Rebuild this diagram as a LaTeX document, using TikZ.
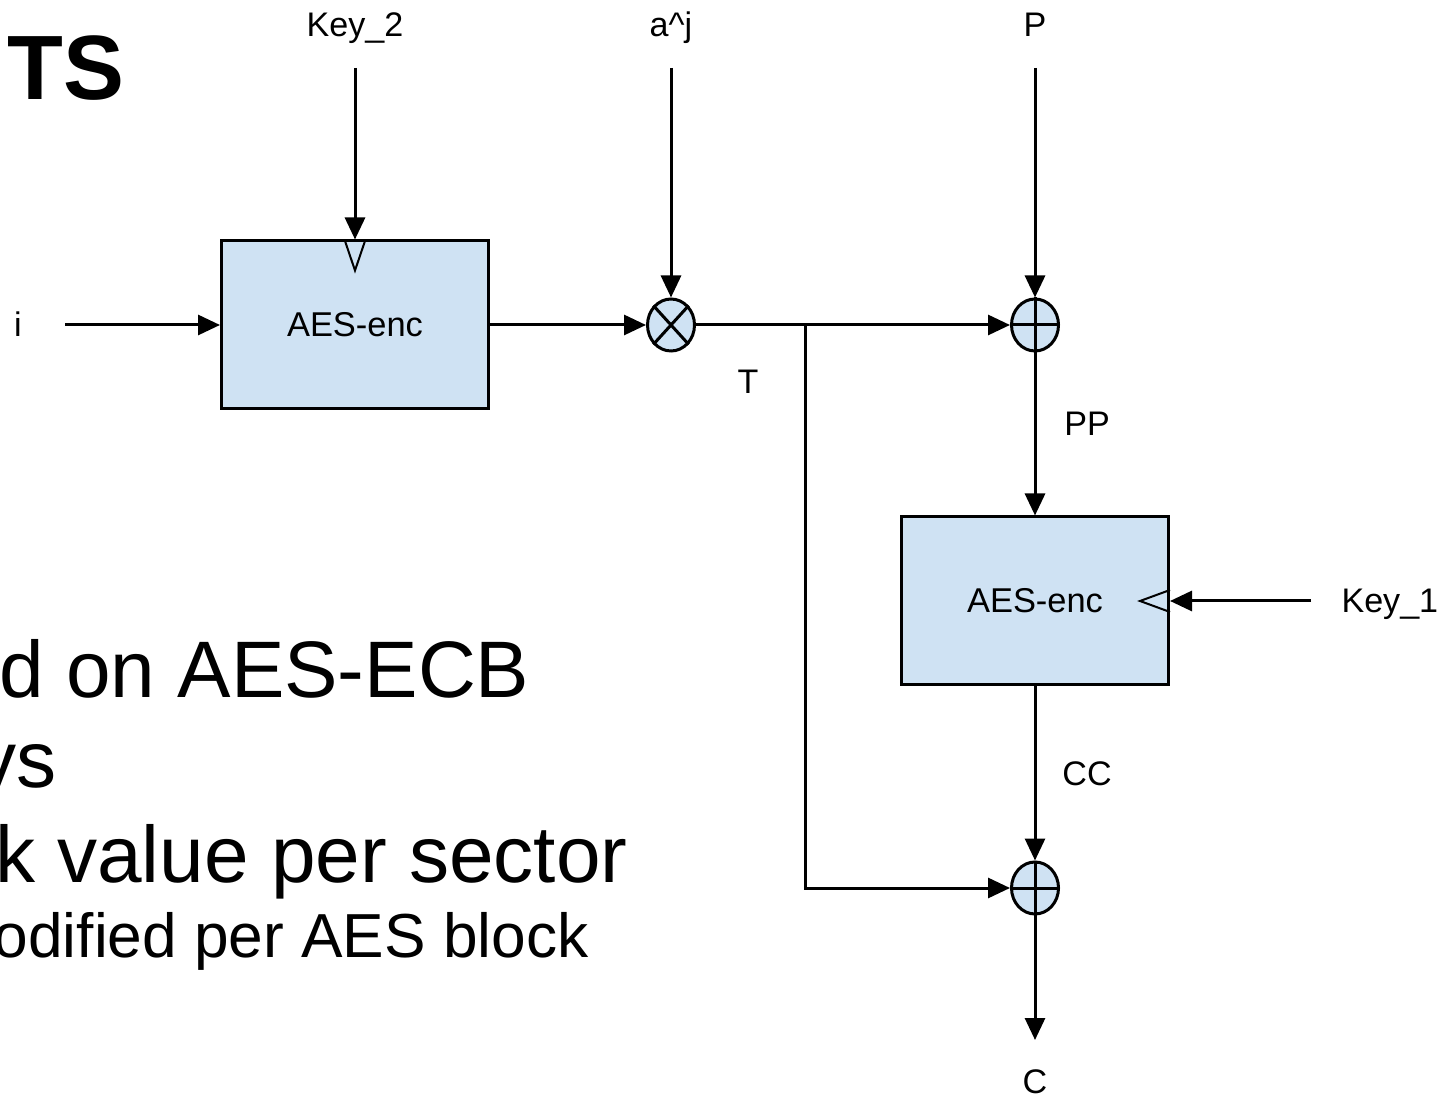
\documentclass[tikz,border=0pt]{standalone}
\usepackage{fontspec}
\setmainfont{Liberation Sans}
\usetikzlibrary{arrows.meta,shapes.geometric}
\definecolor{boxblue}{RGB}{207,226,243}

\begin{document}
\begin{tikzpicture}[
  x=0.1mm, y=-0.1mm,
  line width=0.3mm,
  aesbox/.style={draw, fill=boxblue, minimum width=26.7mm, minimum height=16.8mm, inner sep=0pt, font=\fontsize{9.8}{11}\selectfont},
  mixer/.style={draw, fill=boxblue, ellipse, minimum width=4.7mm, minimum height=5.2mm, inner sep=0pt},
  lbl/.style={font=\fontsize{9.7}{11}\selectfont, inner sep=0pt, anchor=base},
  slide/.style={inner sep=0pt, anchor=base east},
  flow/.style={-{Triangle[length=2.2mm,width=2mm]}},
  keytri/.style={line width=0.2mm}
]
\useasboundingbox (0,0) rectangle (1451,1097);

% slide text, cut at the left edge
\node[slide, font=\fontsize{26}{30}\selectfont\bfseries] (title) at (126,100) {TS};
\node[slide, font=\fontsize{22.8}{26}\selectfont] (based) at (531,698) {d on AES-ECB};
\node[slide, font=\fontsize{22.8}{26}\selectfont] (keys) at (58,788) {ys};
\node[slide, font=\fontsize{22.8}{26}\selectfont] (tweak) at (629,882) {k value per sector};
\node[slide, font=\fontsize{17.7}{20}\selectfont] (modif) at (590,957) {odified per AES block};

% blocks
\node[aesbox] (enc1) at (355,325) {AES-enc};
\node[aesbox] (enc2) at (1035,601) {AES-enc};
\node[mixer] (mul) at (671,325) {};
\node[mixer] (xor1) at (1035,325) {};
\node[mixer] (xor2) at (1035,888) {};
\draw (mul.north west) -- (mul.south east) (mul.north east) -- (mul.south west);
\foreach \n in {xor1,xor2}
  \draw (\n.north) -- (\n.south) (\n.west) -- (\n.east);

% key inputs
\draw[keytri] ([xshift=-1.05mm]enc1.north) -- ([yshift=-3.1mm]enc1.north) -- ([xshift=1.05mm]enc1.north);
\draw[keytri] ([yshift=1.1mm]enc2.east) -- ([xshift=-3mm]enc2.east) -- ([yshift=-1.1mm]enc2.east);

% labels
\node[lbl] (key2) at (355,37) {Key\_2};
\node[lbl] (aj) at (671,37) {a\textasciicircum j};
\node[lbl] (p) at (1035,37) {P};
\node[lbl] (i) at (18,337) {i};
\node[lbl] (t) at (748,394) {T};
\node[lbl] (pp) at (1087,436) {PP};
\node[lbl] (cc) at (1087,786) {CC};
\node[lbl] (c) at (1035,1093) {C};
\node[lbl, anchor=base west] (key1) at (1340,613) {Key\_1};

\coordinate (key2in) at (355,68);
\coordinate (ajin) at (671,68);
\coordinate (pin) at (1035,68);
\coordinate (iin) at (65,325);
\coordinate (key1in) at (1311,601);
\coordinate (cout) at (1035,1040);
\coordinate (tap) at (805,325);

% connections
\draw[flow] (key2in) -- (enc1.north);
\draw[flow] (iin) -- (enc1.west);
\draw[flow] (enc1.east) -- (mul.west);
\draw[flow] (ajin) -- (mul.north);
\draw (mul.east) -- (tap);
\draw[flow] (tap) -- (xor1.west);
\draw[flow] (pin) -- (xor1.north);
\draw[flow] (xor1.south) -- (enc2.north);
\draw[flow] (key1in) -- (enc2.east);
\draw[flow] (enc2.south) -- (xor2.north);
\draw[flow] (tap) |- (xor2.west);
\draw[flow] (xor2.south) -- (cout);
\end{tikzpicture}
\end{document}
